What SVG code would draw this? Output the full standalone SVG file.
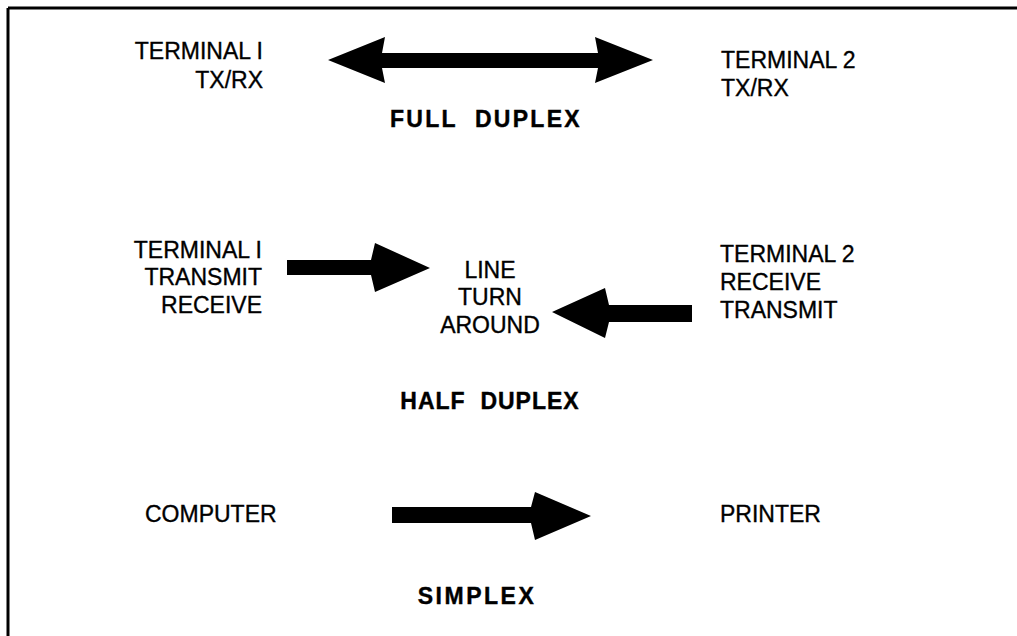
<svg xmlns="http://www.w3.org/2000/svg" width="1017" height="636" viewBox="0 0 1017 636">
  <style>
    .lbl { font-family: "Liberation Sans", Arial, sans-serif; font-size: 23px; fill: #000; stroke: #000; stroke-width: 0.35; }
    .ttl { font-family: "Liberation Sans", Arial, sans-serif; font-weight: bold; font-size: 23px; fill: #000; stroke: #000; stroke-width: 0.4; }
    .end { text-anchor: end; }
    .mid { text-anchor: middle; }
    .arrow { fill: #000; stroke: none; }
    .frame { stroke: #000; stroke-width: 3; fill: none; }
  </style>

  <rect width="1017" height="636" fill="#fff"/>

  <!-- frame: top and left rules only -->
  <path class="frame" d="M8 8 H1017 M8 8 V636"/>

  <!-- full duplex -->
  <g id="fd-terminal1">
    <text class="lbl end" x="263" y="59">TERMINAL I</text>
    <text class="lbl end" x="263" y="88">TX/RX</text>
  </g>
  <g id="fd-terminal2">
    <text class="lbl" x="721" y="68">TERMINAL 2</text>
    <text class="lbl" x="721" y="96">TX/RX</text>
  </g>
  <g id="fd-title">
    <text class="ttl mid" x="486" y="127" font-size="24" letter-spacing="2.3" xml:space="preserve">FULL  DUPLEX</text>
  </g>

  <!-- half duplex -->
  <g id="hd-terminal1">
    <text class="lbl end" x="262" y="258">TERMINAL I</text>
    <text class="lbl end" x="262" y="285">TRANSMIT</text>
    <text class="lbl end" x="262" y="313">RECEIVE</text>
  </g>
  <g id="hd-line">
    <text class="lbl mid" x="490" y="278">LINE</text>
    <text class="lbl mid" x="490" y="305">TURN</text>
    <text class="lbl mid" x="490" y="333">AROUND</text>
  </g>
  <g id="hd-terminal2">
    <text class="lbl" x="720" y="262">TERMINAL 2</text>
    <text class="lbl" x="720" y="290">RECEIVE</text>
    <text class="lbl" x="720" y="318">TRANSMIT</text>
  </g>
  <g id="hd-title">
    <text class="ttl mid" x="490" y="409" letter-spacing="1" xml:space="preserve">HALF  DUPLEX</text>
  </g>

  <!-- simplex -->
  <g id="sx-computer">
    <text class="lbl" x="145" y="522">COMPUTER</text>
  </g>
  <g id="sx-printer">
    <text class="lbl" x="720" y="522">PRINTER</text>
  </g>
  <g id="sx-title">
    <text class="ttl mid" x="477" y="604" letter-spacing="2.5">SIMPLEX</text>
  </g>

  <!-- connectors -->
  <g id="connectors">
    <!-- double-headed full duplex arrow -->
    <path class="arrow" d="M328 60 L385 37 L382 53 L598 53 L595 37 L653 60 L595 83 L598 68 L382 68 L385 83 Z"/>
    <!-- half duplex: terminal 1 to line -->
    <path class="arrow" d="M287 260 L371 260 L375 243 L430 268 L375 292 L371 275 L287 275 Z"/>
    <!-- half duplex: terminal 2 to line -->
    <path class="arrow" d="M692 305 L609 305 L605 288 L552 312 L605 338 L609 322 L692 322 Z"/>
    <!-- simplex: computer to printer -->
    <path class="arrow" d="M392 507 L531 507 L535 492 L591 516 L535 540 L531 523 L392 523 Z"/>
  </g>
</svg>
